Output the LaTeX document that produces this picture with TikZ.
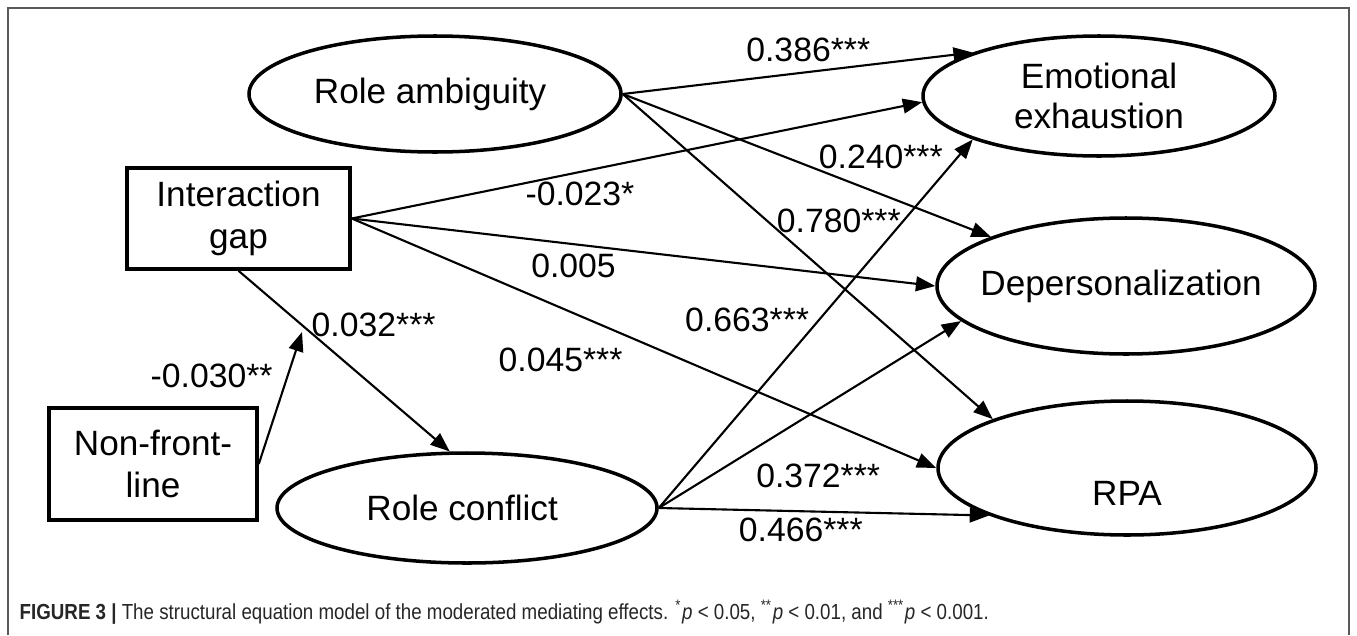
\documentclass[tikz,border=0pt]{standalone}
\usepackage{fontspec}
\setmainfont{Liberation Sans}
\newfontfamily\capfont{Liberation Sans}[FakeStretch=0.86]
\usetikzlibrary{shapes.geometric,arrows.meta}

\begin{document}
\begin{tikzpicture}[
        latent/.style={draw,ellipse,line width=1pt,inner sep=0pt,inner xsep=-5pt,align=center,font=\fontsize{10}{11.6}\selectfont},
        observed/.style={draw,rectangle,line width=1pt,inner sep=0pt,align=center,font=\fontsize{10}{12}\selectfont},
        effect/.style={-{Triangle[length=5.5pt,width=4.2pt]},line width=0.6pt},
        coef/.style={inner sep=2.5pt,font=\fontsize{9.6}{10}\selectfont},
        frame/.style={draw=black!65,line width=0.5pt}
    ]
            \useasboundingbox (0, 0) rectangle (13.57, -6.35);
            \draw[frame] (0.08, -6.35) -- (0.08, -0.08) -- (13.49, -0.08) -- (13.49, -6.35);

            \node[latent,minimum width=3.72cm,minimum height=1.16cm] (RA) at (4.35, -0.94) { Role ambiguity };
            \node[latent,minimum width=3.80cm,minimum height=1.10cm] (RC) at (4.67, -5.08) { Role conflict };
            \node[observed,minimum width=2.23cm,minimum height=1.01cm] (IG) at (2.385, -2.185) { Interaction\\gap };
            \node[observed,minimum width=2.08cm,minimum height=1.12cm] (NFL) at (1.53, -4.64) { Non-front-\\line };
            \node[latent,minimum width=3.52cm,minimum height=1.20cm] (EE) at (10.99, -0.96) { Emotional\\exhaustion };
            \node[latent,minimum width=3.78cm,minimum height=1.36cm] (DP) at (11.26, -2.86) { Depersonalization };
            \node[latent,minimum width=3.78cm,minimum height=1.34cm,
                  label={[font=\fontsize{10}{11.6}\selectfont,yshift=-0.25cm]center:RPA}] (RPA) at (11.27, -4.68) { };
            \coordinate (M) at (3.02, -3.32);

            \draw[effect] (RA.east) -- node[coef,pos=0.53,above] { 0.386*** } (EE.161);
            \draw[effect] (RA.east) -- node[coef,pos=0.53,anchor=south west,inner sep=0pt] { 0.240*** } (DP.160);
            \draw[effect] (RA.east) -- node[coef,pos=0.39,anchor=west] { 0.780*** } (RPA.160);
            \draw[effect] (IG.east) -- node[coef,pos=0.40,below] { -0.023* } (EE.182);
            \draw[effect] (IG.east) -- node[coef,pos=0.38,below] { 0.005 } (DP.west);
            \draw[effect] (IG.east) -- node[coef,pos=0.48,anchor=north east] { 0.045*** } (RPA.west);
            \draw[effect] (RC.east) -- node[coef,pos=0.51,anchor=east] { 0.663*** } (EE.199);
            \draw[effect] (RC.east) -- node[coef,pos=0.29,anchor=north west] { 0.372*** } (DP.192);
            \draw[effect] (RC.east) -- node[coef,pos=0.43,below,inner sep=1.5pt] { 0.466*** } (RPA.199);
            \draw[effect] (IG.south) -- node[coef,pos=0.30,anchor=west] { 0.032*** } (RC.107);
            \draw[effect] (NFL.east) -- node[coef,pos=0.67,anchor=east,inner sep=4pt] { -0.030** } (M);

            \node[anchor=west,inner sep=0pt,text=black!85,font=\capfont\fontsize{6.2}{7}\selectfont] (CAP) at (0.19, -6.12)
                { \textbf{FIGURE 3} \textbf{|} The structural equation model of the moderated mediating effects. \textsuperscript{*}\textit{p} < 0.05, \textsuperscript{**}\textit{p} < 0.01, and \textsuperscript{***}\textit{p} < 0.001. };

        \end{tikzpicture}
\end{document}
